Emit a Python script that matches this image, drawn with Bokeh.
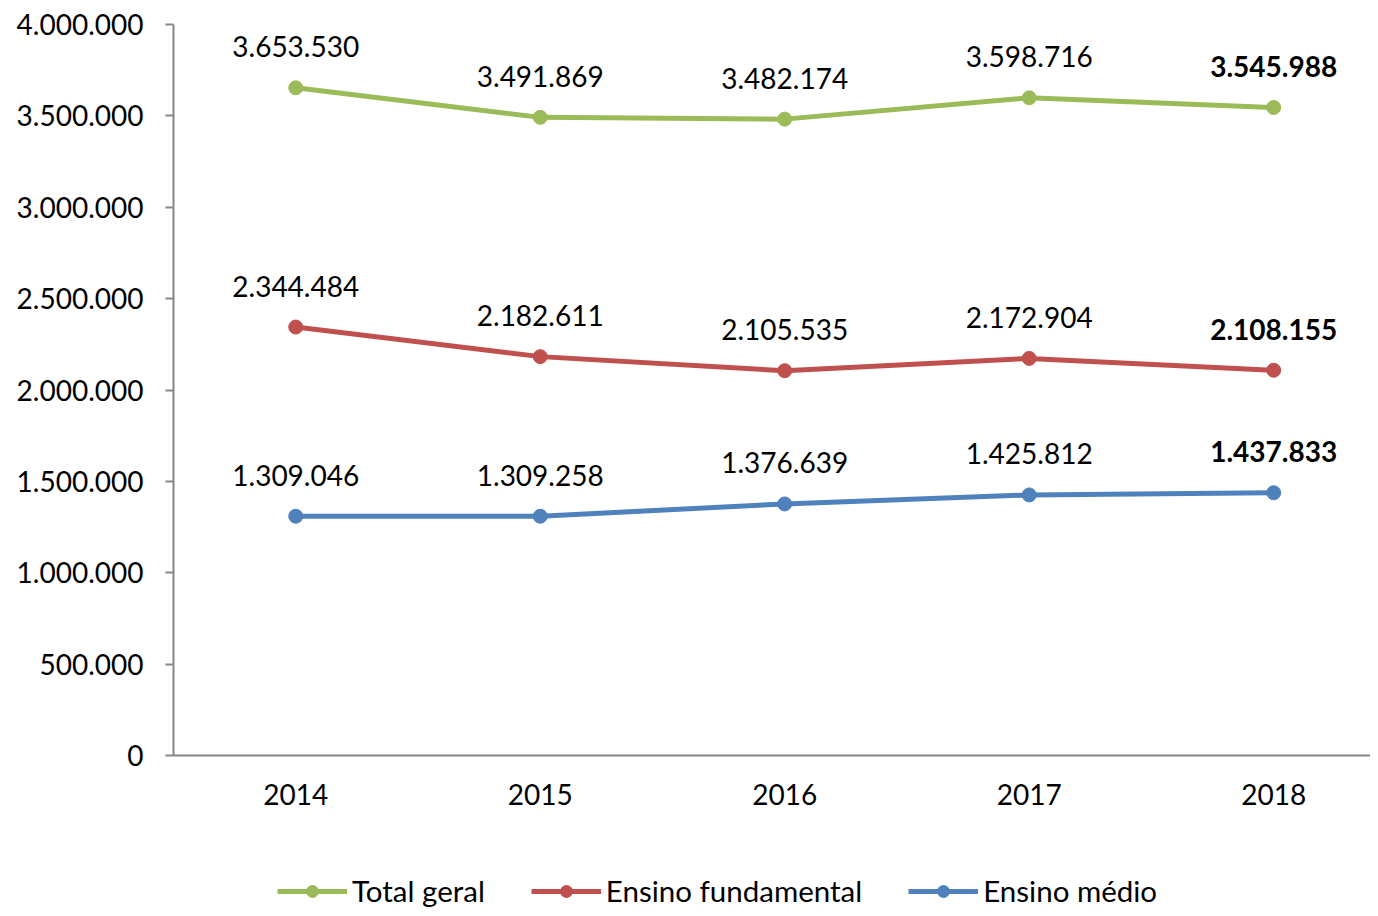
from bokeh.plotting import figure
from bokeh.layouts import column
from bokeh.models import ColumnDataSource, Range1d, FixedTicker, CustomJSTickFormatter, Legend, LegendItem
from bokeh.core.properties import value
from bokeh.embed import file_html
from bokeh.resources import INLINE

years = ["2014", "2015", "2016", "2017", "2018"]
total_geral = [3653530, 3491869, 3482174, 3598716, 3545988]
ensino_fundamental = [2344484, 2182611, 2105535, 2172904, 2108155]
ensino_medio = [1309046, 1309258, 1376639, 1425812, 1437833]
y_ticks = [0, 500000, 1000000, 1500000, 2000000, 2500000, 3000000, 3500000, 4000000]

series = [
    ("Total geral", total_geral, "#9BBB59"),
    ("Ensino fundamental", ensino_fundamental, "#C0504D"),
    ("Ensino médio", ensino_medio, "#4F81BD"),
]

FONT = "Lato"
FS = "28px"

def fmt(v):
    return f"{v:,}".replace(",", ".")

p = figure(width=1370, height=830, output_backend="svg", toolbar_location=None,
           x_range=Range1d(-0.5, 4.396), y_range=Range1d(0, 4000000),
           min_border_left=173, min_border_right=0, min_border_top=24, min_border_bottom=75)
p.outline_line_color = None
p.xgrid.visible = False
p.ygrid.visible = False

# small figure below holding only the legend
lg = figure(width=1370, height=78, output_backend="svg", toolbar_location=None,
            x_range=Range1d(100, 101), y_range=Range1d(1e8, 1e8 + 1),
            x_axis_location=None, y_axis_location=None,
            min_border_left=0, min_border_right=0, min_border_top=0, min_border_bottom=0)
lg.outline_line_color = None
lg.grid.visible = False

xs = list(range(len(years)))
items = []
for name, vals, color in series:
    src = ColumnDataSource(dict(x=xs, y=vals))
    p.line("x", "y", source=src, line_color=color, line_width=5)
    p.scatter("x", "y", source=src, size=14, fill_color=color, line_color=color)
    l1 = lg.line("x", "y", source=src, line_color=color, line_width=5)
    l2 = lg.scatter("x", "y", source=src, size=14, fill_color=color, line_color=color)
    items.append(LegendItem(label=name, renderers=[l1, l2]))
    lsrc = ColumnDataSource(dict(x=xs[:-1], y=vals[:-1], lab=[fmt(v) for v in vals[:-1]]))
    p.text("x", "y", text="lab", source=lsrc, text_font=value(FONT), text_font_size=FS,
           text_align="center", text_baseline="middle", y_offset=-41, text_color="#000000")
    bsrc = ColumnDataSource(dict(x=xs[-1:], y=vals[-1:], lab=[fmt(v) for v in vals[-1:]]))
    p.text("x", "y", text="lab", source=bsrc, text_font=value(FONT), text_font_size=FS,
           text_font_style="bold", text_align="center", text_baseline="middle", y_offset=-41,
           text_color="#000000")

# axes
p.yaxis.ticker = FixedTicker(ticks=y_ticks)
p.yaxis.formatter = CustomJSTickFormatter(code="return Math.round(tick).toString().replace(/\\B(?=(\\d{3})+(?!\\d))/g, '.');")
p.yaxis.minor_tick_line_color = None
p.yaxis.major_tick_out = 8
p.yaxis.major_tick_in = 0
p.yaxis.major_label_standoff = 22
p.yaxis.axis_line_color = "#868686"
p.yaxis.axis_line_width = 2
p.yaxis.major_tick_line_color = "#868686"
p.yaxis.major_tick_line_width = 2
p.yaxis.major_label_text_font = FONT
p.yaxis.major_label_text_font_size = FS
p.yaxis.major_label_text_color = "#000000"

p.xaxis.ticker = FixedTicker(ticks=xs)
p.xaxis.major_label_overrides = {i: y for i, y in enumerate(years)}
p.xaxis.minor_tick_line_color = None
p.xaxis.major_tick_out = 0
p.xaxis.major_tick_in = 0
p.xaxis.major_label_standoff = 28
p.xaxis.axis_line_color = "#868686"
p.xaxis.axis_line_width = 2
p.xaxis.major_label_text_font = FONT
p.xaxis.major_label_text_font_size = FS
p.xaxis.major_label_text_color = "#000000"

legend = Legend(items=items, orientation="horizontal", location=(104, 0),
                glyph_width=70, glyph_height=30, label_standoff=5, spacing=46,
                padding=0, margin=0, border_line_color=None, background_fill_alpha=0,
                label_text_font=FONT, label_text_font_size="29.5px", label_text_color="#000000")
lg.add_layout(legend, "center")

layout = column(p, lg, spacing=0)
open("out.html", "w").write(file_html(layout, INLINE))
